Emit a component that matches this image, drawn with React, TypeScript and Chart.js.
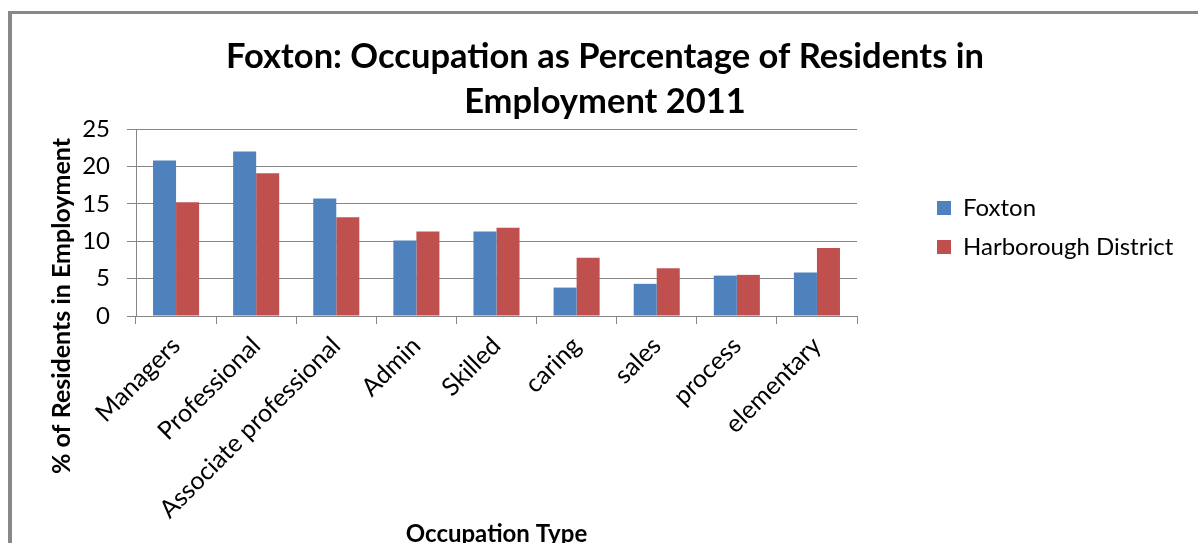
import React, { useEffect, useRef } from "react";
import { Chart, registerables } from "chart.js";

Chart.register(...registerables);

const categories = [
  "Managers",
  "Professional",
  "Associate professional",
  "Admin",
  "Skilled",
  "caring",
  "sales",
  "process",
  "elementary",
];
const foxton = [20.8, 22.0, 15.7, 10.1, 11.3, 3.8, 4.3, 5.4, 5.8];
const harborough = [15.2, 19.1, 13.2, 11.3, 11.8, 7.8, 6.4, 5.5, 9.1];
const seriesNames = ["Foxton", "Harborough District"];
const titleLines = ["Foxton: Occupation as Percentage of Residents in", "Employment 2011"];
const xTitle = "Occupation Type";
const yTitle = "% of Residents in Employment";
const yTicks = [0, 5, 10, 15, 20, 25];

const FONT = "Lato, 'Open Sans', sans-serif";
const GRID = "#868686";

export default function App() {
  const ref = useRef<HTMLCanvasElement | null>(null);

  useEffect(() => {
    if (!ref.current) return;

    const legendWidthPlugin = {
      id: "legendWidth",
      beforeInit(chart: any) {
        const lg = chart.legend;
        if (lg) {
          const orig = lg.fit.bind(lg);
          lg.fit = function () {
            orig();
            this.width = 276;
          };
        }
      },
    };

    const yTitlePlugin = {
      id: "yTitle",
      afterDraw(chart: any) {
        const ctx = chart.ctx;
        const area = chart.chartArea;
        ctx.save();
        ctx.translate(50, area.top + 177);
        ctx.rotate(-Math.PI / 2);
        ctx.textAlign = "center";
        ctx.textBaseline = "middle";
        ctx.fillStyle = "#000";
        ctx.font = `bold 25px ${FONT}`;
        ctx.fillText(yTitle, 0, 0);
        ctx.restore();
      },
    };

    const chart = new Chart(ref.current, {
      type: "bar",
      data: {
        labels: categories,
        datasets: [
          {
            label: seriesNames[0],
            data: foxton,
            backgroundColor: "#4F81BD",
            borderWidth: 0,
            barPercentage: 1,
            categoryPercentage: 0.575,
          },
          {
            label: seriesNames[1],
            data: harborough,
            backgroundColor: "#C0504D",
            borderWidth: 0,
            barPercentage: 1,
            categoryPercentage: 0.575,
          },
        ],
      },
      options: {
        animation: false,
        responsive: false,
        devicePixelRatio: 1,
        layout: { padding: 0 },
        plugins: {
          title: {
            display: true,
            text: titleLines,
            color: "#000",
            font: { family: FONT, size: 34.5, weight: "bold", lineHeight: 45 / 34.5 },
            padding: { top: 20, bottom: 5 },
          },
          legend: {
            position: "right",
            fullSize: false,
            align: "center",
            title: { display: true, text: " ", padding: 0, font: { size: 10, lineHeight: 1 } },
            labels: {
              boxWidth: 14,
              boxHeight: 14,
              padding: 15,
              color: "#000",
              font: { family: FONT, size: 24 },
            },
          },
          tooltip: { enabled: false },
        },
        scales: {
          x: {
            grid: {
              display: true,
              drawOnChartArea: false,
              drawTicks: true,
              tickLength: 8,
              color: GRID,
              offset: true,
            },
            border: { color: GRID, width: 1 },
            ticks: {
              maxRotation: 45,
              minRotation: 45,
              autoSkip: false,
              color: "#000",
              padding: 7,
              font: { family: FONT, size: 25 },
            },
            title: {
              display: true,
              text: xTitle,
              color: "#000",
              font: { family: FONT, size: 24, weight: "bold" },
              padding: 0,
            },
            afterFit: (s: any) => {
              s.height = 233;
            },
          },
          y: {
            min: 0,
            max: 25,
            afterBuildTicks: (s: any) => {
              s.ticks = yTicks.map((v) => ({ value: v }));
            },
            grid: { color: GRID, tickLength: 9, lineWidth: 1 },
            border: { color: GRID, width: 1 },
            ticks: {
              color: "#000",
              padding: 17,
              font: { family: FONT, size: 24 },
            },
            afterFit: (s: any) => {
              s.width = 124;
            },
          },
          y1: {
            type: "linear",
            position: "right",
            display: true,
            grid: { display: false },
            border: { display: false },
            ticks: { display: false },
            afterFit: (s: any) => {
              s.width = 65;
            },
          },
        },
      },
      plugins: [legendWidthPlugin, yTitlePlugin],
    } as any);

    return () => chart.destroy();
  }, []);

  return (
    <div
      style={{
        position: "fixed",
        left: 0,
        top: 0,
        width: 1198,
        height: 543,
        overflow: "hidden",
        background: "#fff",
      }}
    >
      <div
        style={{
          position: "absolute",
          left: 8,
          top: 11,
          width: 1200,
          height: 560,
          borderLeft: "4px solid #888888",
          borderTop: "3px solid #888888",
        }}
      />
      <div style={{ position: "absolute", left: 12, top: 14, width: 1186, height: 535 }}>
        <canvas ref={ref} width={1186} height={535} style={{ display: "block" }} />
      </div>
    </div>
  );
}
